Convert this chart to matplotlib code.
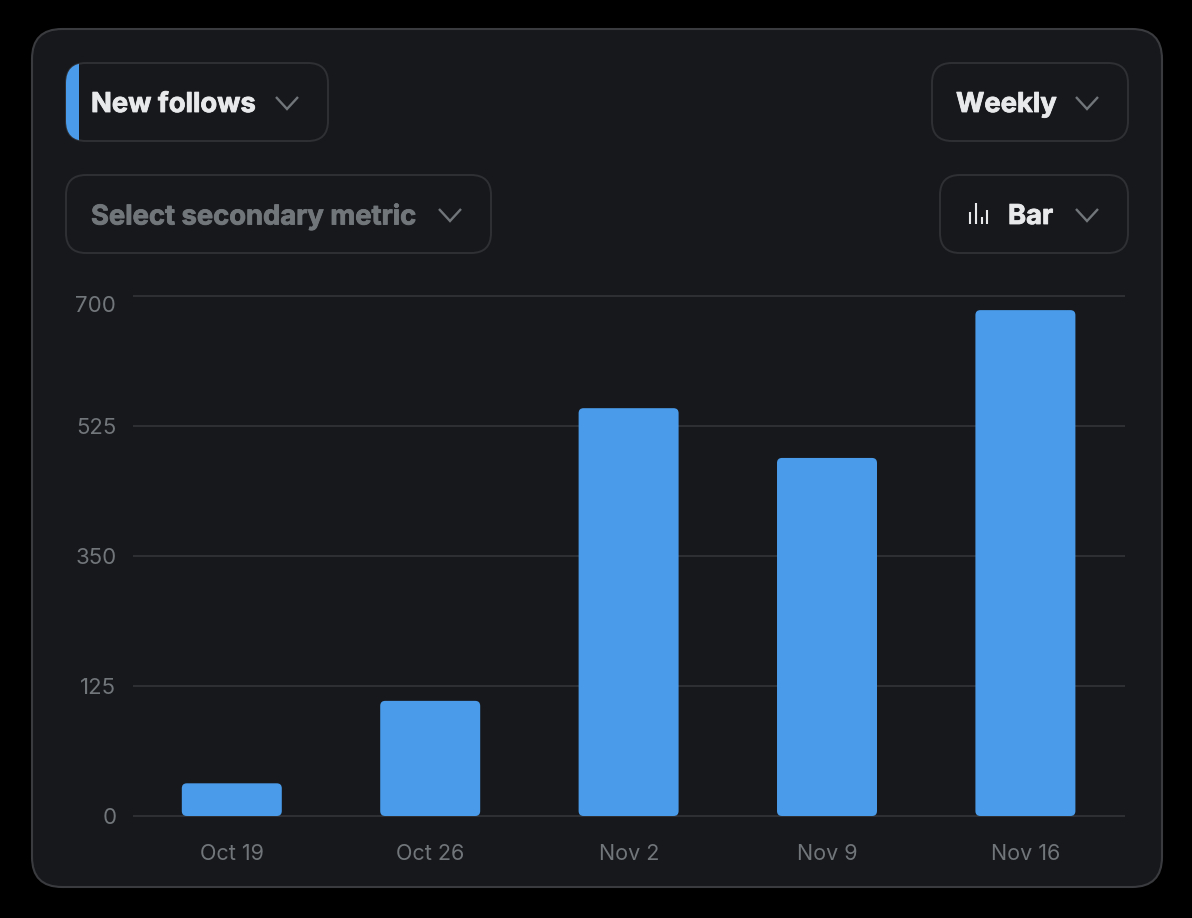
import matplotlib
matplotlib.use('Agg')
from matplotlib import pyplot as plt
from matplotlib import patheffects as pe
from matplotlib.patches import FancyBboxPatch, Rectangle

plt.rcParams['font.family'] = ['Inter', 'DejaVu Sans']

weeks = ['Oct 19', 'Oct 26', 'Nov 2', 'Nov 9', 'Nov 16']
new_follows = [44, 155, 549, 482, 681]
y_ticks = [0, 175, 350, 525, 700]
y_labels = ['0', '125', '350', '525', '700']

W, H = 1192, 918
BG = '#17181c'
EDGE = '#2e3034'
BLUE = '#4a9be9'
WHITE = '#e7e9ea'
GREY = '#71767b'


def box(ax, x0, y0, x1, y1, r, edge=EDGE, face='none', lw=1.4):
    p = FancyBboxPatch((x0, y0), x1 - x0, y1 - y0, boxstyle='round,pad=0,rounding_size=%d' % r,
                       facecolor=face, edgecolor=edge, linewidth=lw)
    ax.add_patch(p)
    return p


def chevron(ax, cx, cy):
    ax.plot([cx - 11, cx, cx + 11], [cy - 6, cy + 6, cy - 6], color=GREY, lw=1.7,
            solid_joinstyle='miter', solid_capstyle='butt')


def label(ax, x, y, s, color):
    t = ax.text(x, y, s, color=color, fontsize=19.7, fontweight='bold', va='center')
    # the reference type is a touch heavier than Inter bold here
    t.set_path_effects([pe.withStroke(linewidth=0.6, foreground=color)])


fig = plt.figure(figsize=(W / 100, H / 100), dpi=100, facecolor='black')

# dropdowns and card are drawn in pixel coords
ui = fig.add_axes([0, 0, 1, 1])
ui.set_xlim(0, W)
ui.set_ylim(H, 0)
ui.axis('off')

box(ui, 32, 29, 1162, 887, 30, edge='#3a3b3f', face=BG, lw=1.5)

box(ui, 66, 63, 328, 141, 20)
box(ui, 66, 175, 491, 253, 20)
box(ui, 932, 63, 1128, 141, 20)
box(ui, 940, 175, 1128, 253, 20)

accent = box(ui, 66, 63, 328, 141, 20, edge='none', face=BLUE)
accent.set_clip_path(Rectangle((66, 62), 13, 80, transform=ui.transData))

label(ui, 91, 105, 'New follows', WHITE)
label(ui, 91, 217, 'Select secondary metric', GREY)
label(ui, 956, 105, 'Weekly', WHITE)
label(ui, 1008, 217, 'Bar', WHITE)

chevron(ui, 287, 103)
chevron(ui, 450, 215)
chevron(ui, 1087, 103)
chevron(ui, 1087, 215)

# little bar icon
for ix, top in [(970, 212), (976, 203), (982, 217), (987, 210)]:
    ui.plot([ix, ix], [224, top], color=WHITE, lw=1.5, solid_capstyle='butt')

# chart
ax = fig.add_axes([133 / W, 1 - 816 / H, 992 / W, 520 / H], facecolor='none')
ax.set_xlim(-0.5, 4.5)
ax.set_ylim(0, 700)
for s in ax.spines.values():
    s.set_visible(False)

ax.set_yticks(y_ticks)
ax.set_yticklabels(y_labels)
ax.set_xticks(range(len(weeks)))
ax.set_xticklabels(weeks)
ax.tick_params(axis='both', length=0, labelcolor=GREY)
ax.tick_params(axis='y', pad=12, labelsize=16)
ax.tick_params(axis='x', pad=20, labelsize=15.5)
ax.set_axisbelow(True)
ax.grid(axis='y', color=EDGE, lw=1.4)
for line in ax.get_ygridlines():
    line.set_clip_on(False)
    line.set_solid_capstyle('butt')

# 700 sits below its gridline in the reference
ax.get_yticklabels()[-1].set_verticalalignment('top')

bar_w = 0.504
aspect = (700 / 520) / (5 / 992)
for i, v in enumerate(new_follows):
    ax.add_patch(FancyBboxPatch((i - 0.002 - bar_w / 2, 0), bar_w, v,
                                boxstyle='round,pad=0,rounding_size=%f' % (5 * 5 / 992),
                                mutation_aspect=aspect, facecolor=BLUE, edgecolor='none',
                                clip_on=False, zorder=3))

fig.savefig('out.png', dpi=100, facecolor='black')
